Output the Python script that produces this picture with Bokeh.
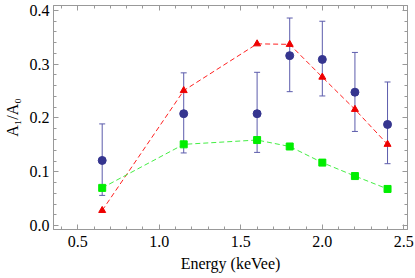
from bokeh.plotting import figure
from bokeh.models import (ColumnDataSource, Whisker, TeeHead, LinearAxis,
                          SingleIntervalTicker, PrintfTickFormatter, Range1d,
                          CustomJSTickFormatter)
from bokeh.embed import file_html
from bokeh.resources import INLINE

# ---- data ----
energy = [0.65, 1.15, 1.6, 1.8, 2.0, 2.2, 2.4]
blue_y = [0.121, 0.208, 0.208, 0.316, 0.309, 0.248, 0.188]
blue_hi = [0.189, 0.284, 0.285, 0.386, 0.380, 0.322, 0.267]
blue_lo = [0.056, 0.135, 0.136, 0.249, 0.241, 0.175, 0.115]
red_y = [0.028, 0.251, 0.338, 0.337, 0.276, 0.216, 0.151]
green_y = [0.070, 0.151, 0.159, 0.147, 0.117, 0.092, 0.068]
x_label = "Energy (keVee)"
y_label = "A\u2081/A\u2080"

FONT = "Liberation Serif"
FRAME = "#999999"

p = figure(width=415, height=278, output_backend="svg", toolbar_location=None,
           x_range=Range1d(0.3514, 2.5224), y_range=Range1d(-0.00744, 0.4093),
           min_border_left=49, min_border_right=8, min_border_top=5,
           min_border_bottom=49)
p.grid.visible = False
p.outline_line_color = FRAME
p.background_fill_color = "white"
p.border_fill_color = "white"


def style(ax, ticker, labels=True):
    ax.ticker = ticker
    ax.axis_line_color = FRAME
    ax.major_tick_line_color = FRAME
    ax.minor_tick_line_color = FRAME
    ax.major_tick_in = 5
    ax.major_tick_out = 0
    ax.minor_tick_in = 3
    ax.minor_tick_out = 0
    if labels:
        ax.formatter = PrintfTickFormatter(format="%.1f")
        ax.major_label_text_font = FONT
        ax.major_label_text_font_size = "16px"
        ax.major_label_text_color = "black"
        ax.axis_label_text_font = FONT
        ax.axis_label_text_font_size = "16px"
        ax.axis_label_text_font_style = "normal"
        ax.axis_label_text_color = "black"
    else:
        ax.formatter = CustomJSTickFormatter(code="return ''")
        ax.major_label_text_font_size = "0px"
        ax.major_label_standoff = 0
        ax.axis_label_standoff = 0


style(p.xaxis[0], SingleIntervalTicker(interval=0.5, num_minor_ticks=5))
style(p.yaxis[0], SingleIntervalTicker(interval=0.1, num_minor_ticks=5))
p.xaxis[0].axis_label = x_label
p.yaxis[0].axis_label = y_label
p.xaxis[0].major_label_standoff = 6
p.xaxis[0].axis_label_standoff = 5
p.yaxis[0].major_label_standoff = 4
p.yaxis[0].axis_label_standoff = 6

top = LinearAxis()
style(top, SingleIntervalTicker(interval=0.5, num_minor_ticks=5), labels=False)
p.add_layout(top, "above")
right = LinearAxis()
style(right, SingleIntervalTicker(interval=0.1, num_minor_ticks=5), labels=False)
p.add_layout(right, "right")

src = ColumnDataSource(dict(x=energy, b=blue_y, hi=blue_hi, lo=blue_lo,
                            r=red_y, g=green_y))

p.line("x", "r", source=src, line_color="#ff2020", line_dash="5 3", line_width=1)
p.line("x", "g", source=src, line_color="#44ee44", line_dash="5 3", line_width=1)

w = Whisker(base="x", upper="hi", lower="lo", source=src, line_color="#5c5cac",
            line_width=1,
            upper_head=TeeHead(size=6, line_color="#5c5cac", line_width=1),
            lower_head=TeeHead(size=6, line_color="#5c5cac", line_width=1))
p.add_layout(w)

p.scatter("x", "g", source=src, marker="square", size=7, fill_color="#00ee00",
          line_color="#00ee00")
p.scatter("x", "r", source=src, marker="triangle", size=7, fill_color="#ee0000",
          line_color="#ee0000")
p.scatter("x", "b", source=src, marker="circle", size=8, fill_color="#35358f",
          line_color="#35358f")

open("out.html", "w").write(file_html(p, INLINE))
